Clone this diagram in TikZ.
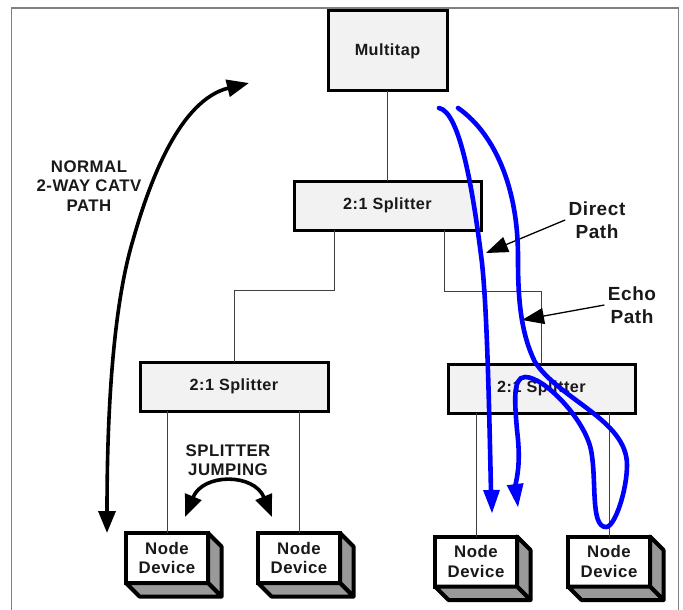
\documentclass[tikz,border=0pt]{standalone}
\usepackage{fontspec}
\setmainfont{Liberation Sans}[LetterSpace=3]
\usetikzlibrary{arrows.meta}
\definecolor{boxfill}{HTML}{F2F2F2}
\definecolor{sidefill}{HTML}{999999}
\definecolor{framecol}{HTML}{808080}
\tikzset{
	txt/.style={font=\fontsize{16.8}{19.5}\selectfont\bfseries,align=center,text=black!90},
	bigtxt/.style={font=\fontsize{19}{22.5}\selectfont\bfseries,align=center,text=black!90},
	box/.style={font=\fontsize{16.2}{19}\selectfont\bfseries,text=black!90,draw=black,line width=3pt,fill=boxfill,outer sep=0pt,inner sep=0pt},
	device/.style={txt,draw=black,line width=4pt,fill=white,outer sep=0pt,inner sep=0pt,minimum width=82pt,minimum height=50pt},
	wire/.style={line width=0.8pt,draw=black!75},
	bigarrow/.style={line width=3.6pt,{Triangle[length=22pt,width=17pt]}-{Triangle[length=22pt,width=17pt]}},
	callout/.style={line width=1.3pt,-{Triangle[length=22pt,width=16pt]}},
	bluepath/.style={line width=4.6pt,draw=blue,line cap=round},
	bluehead/.style={-{Triangle[length=23pt,width=17pt]}}
}
\begin{document}
\begin{tikzpicture}[x=1pt,y=-1pt]
		\useasboundingbox (0,0) rectangle (683,610);
		\draw[framecol,line width=1.5pt] (11.5,610) |- (678.5,8) -- (678.5,610);
		%
		\node[box,minimum width=119pt,minimum height=80pt] (M) at (387.5,51) {Multitap};
		\node[box,minimum width=187pt,minimum height=49pt] (S1) at (387.5,205.5) {2:1 Splitter};
		\node[box,minimum width=188pt,minimum height=49pt] (S2) at (234,386.5) {2:1 Splitter};
		\node[box,minimum width=187pt,minimum height=49pt] (S3) at (541.5,388.5) {2:1 Splitter};
		\node[device] (D1) at (167,558) {Node\\Device};
		\node[device] (D2) at (299,558) {Node\\Device};
		\node[device] (D3) at (476,561.5) {Node\\Device};
		\node[device] (D4) at (609,561.5) {Node\\Device};
		% device sides
		\foreach \d in {D1,D2,D3,D4} {
			\draw[line width=4pt,fill=sidefill,line join=round] (\d.north east) -- ++(13.5,13.5) -- ([shift={(13.5,13.5)}]\d.south east) -- (\d.south east) -- cycle;
			\draw[line width=4pt,fill=sidefill,line join=round] (\d.south west) -- ++(13.5,13.5) -- ([shift={(13.5,13.5)}]\d.south east) -- (\d.south east) -- cycle;
		}
		%
		\node[txt] (normal) at (89,186) {NORMAL\\2-WAY CATV\\PATH};
		\node[txt] (jump) at (228,460) {SPLITTER\\JUMPING};
		\node[bigtxt] (direct) at (597,220) {Direct\\Path};
		\node[bigtxt] (echo) at (632,305) {Echo\\Path};
		%
		\coordinate (T1) at (334,290);
		\coordinate (T2) at (444,291);
		\coordinate (directtip) at (486,253);
		\coordinate (echotip) at (522,320);
		\coordinate (jumpL) at (185,517);
		\coordinate (jumpR) at (272,517);
		\coordinate (catvT) at (249,83);
		\coordinate (catvB) at (107,533);
		%
		\path[wire]
		% vertical wires
		(M.south) edge (S1.north)
		(S2.south -| D1.north) edge (D1.north)
		(S2.south -| D2.north) edge (D2.north)
		(S3.south -| D3.north) edge (D3.north)
		(S3.south -| D4.north) edge (D4.north);
		% tree wires
		\draw[wire] (S1.south -| T1) -- (T1) -| (S2.north);
		\draw[wire] (S1.south -| T2) -- (T2) -| (S3.north);
		% black arrows
		\draw[bigarrow] (catvB) .. controls (107,420) and (112,310) .. (133,240) .. controls (150,180) and (180,100) .. (catvT);
		\draw[bigarrow] (jumpL) .. controls (203,473) and (254,473) .. (jumpR);
		\path[callout]
		(direct.west) edge (directtip)
		(echo.west) edge (echotip);
		% blue paths
		\draw[bluepath] (439,108) .. controls (460,112) and (473,190) .. (482,263) .. controls (487,310) and (489,400) .. (491,492);
		\draw[bluepath] (458,108) .. controls (490,130) and (518,180) .. (518,257) .. controls (518,290) and (519,330) .. (535,362)
		.. controls (560,400) and (627,420) .. (627,465) .. controls (627,490) and (615,527) .. (606,527)
		.. controls (590,527) and (597,480) .. (591,450) .. controls (585,420) and (545,377) .. (525,377)
		.. controls (512,377) and (515,405) .. (517,430) .. controls (520,455) and (519,470) .. (515,487);
		\path[bluehead,draw=blue,fill=blue,line width=0pt] (491.5,488) -- (492,513);
		\path[bluehead,draw=blue,fill=blue,line width=0pt] (515,483) -- (518,507);
	\end{tikzpicture}
\end{document}
